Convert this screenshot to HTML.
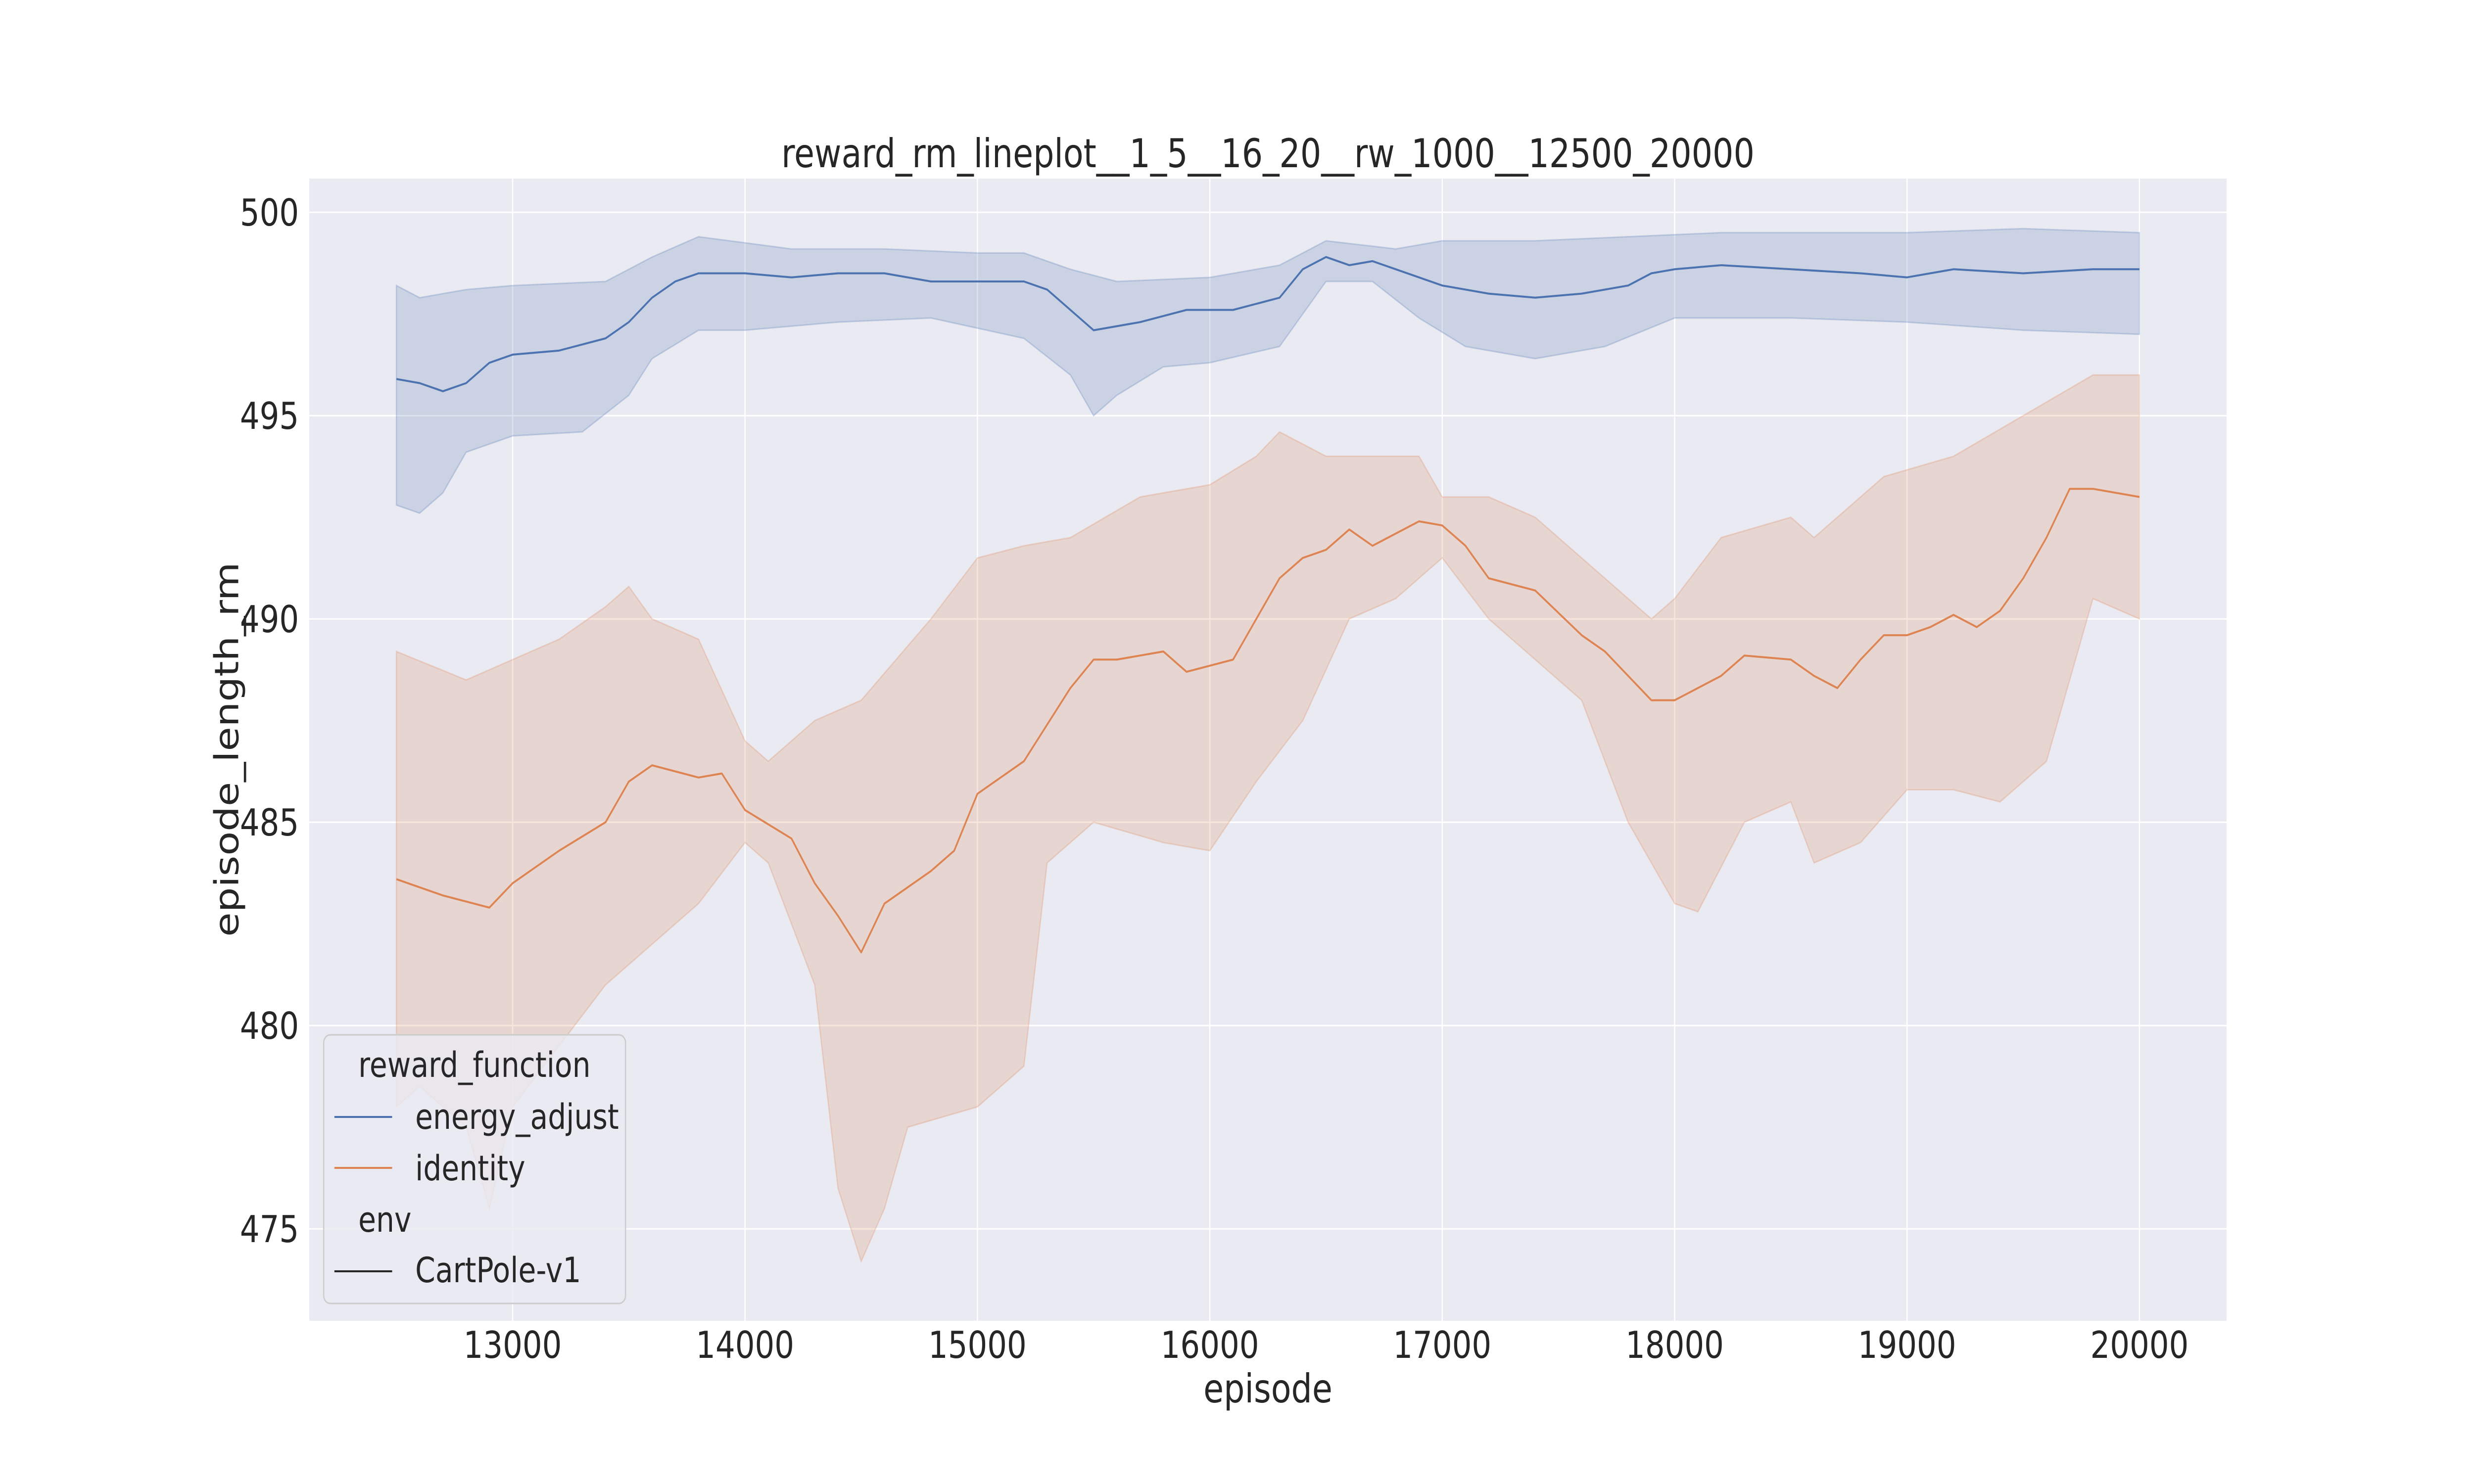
<!DOCTYPE html>
<html><head><meta charset="utf-8"><style>
html,body{margin:0;padding:0;background:#fff;width:100%;height:100%;overflow:hidden;}
svg{display:block;width:100vw;height:100vh;font-family:"DejaVu Sans","Liberation Sans",sans-serif;}
</style></head><body>
<svg id="chart" viewBox="0 0 6000 3000" preserveAspectRatio="none">
<rect x="0" y="0" width="6000" height="3000" fill="#ffffff"/>
<rect x="750" y="361" width="4650" height="2309" fill="#eaeaf2"/>
<g id="grid"></g>
<g id="series"></g>
<g id="ticks"></g>
<text x="3075" y="338" font-size="80" fill="#262626" text-anchor="middle">reward_rm_lineplot__1_5__16_20__rw_1000__12500_20000</text>
<text x="3075" y="2835" font-size="80" fill="#262626" text-anchor="middle">episode</text>
<text transform="translate(578,1515) rotate(-90)" font-size="80" fill="#262626" text-anchor="middle">episode_length_rm</text>
<g>
<rect x="785" y="2092" width="732" height="543" rx="16" fill="#eaeaf2" fill-opacity="0.8" stroke="#cccccc" stroke-width="3"/>
<text x="869" y="2177" font-size="70" fill="#262626">reward_function</text>
<line x1="811" y1="2258" x2="951" y2="2258" stroke="#4c72b0" stroke-width="4"/>
<text x="1007" y="2282" font-size="70" fill="#262626">energy_adjust</text>
<line x1="811" y1="2361" x2="951" y2="2361" stroke="#dd8452" stroke-width="4"/>
<text x="1007" y="2386" font-size="70" fill="#262626">identity</text>
<text x="869" y="2490" font-size="70" fill="#262626">env</text>
<line x1="811" y1="2570" x2="951" y2="2570" stroke="#262626" stroke-width="4"/>
<text x="1007" y="2592" font-size="70" fill="#262626">CartPole-v1</text>
</g>
</svg>
<script>
const xTicks=[13000,14000,15000,16000,17000,18000,19000,20000];
const yTicks=[475,480,485,490,495,500];
const blueMeanX=[12500,12600,12700,12800,12900,13000,13200,13400,13500,13600,13700,13800,14000,14200,14400,14600,14800,15000,15200,15300,15400,15500,15700,15900,16100,16300,16400,16500,16600,16700,16800,17000,17200,17400,17600,17800,17900,18000,18200,18500,18800,19000,19200,19500,19800,20000];
const blueMean=[495.9,495.8,495.6,495.8,496.3,496.5,496.6,496.9,497.3,497.9,498.3,498.5,498.5,498.4,498.5,498.5,498.3,498.3,498.3,498.1,497.6,497.1,497.3,497.6,497.6,497.9,498.6,498.9,498.7,498.8,498.6,498.2,498.0,497.9,498.0,498.2,498.5,498.6,498.7,498.6,498.5,498.4,498.6,498.5,498.6,498.6];
const blueUpX=[12500,12600,12800,13000,13400,13600,13800,14200,14600,15000,15200,15400,15600,16000,16300,16500,16800,17000,17400,17800,18200,19000,19500,20000];
const blueUp=[498.2,497.9,498.1,498.2,498.3,498.9,499.4,499.1,499.1,499.0,499.0,498.6,498.3,498.4,498.7,499.3,499.1,499.3,499.3,499.4,499.5,499.5,499.6,499.5];
const blueLoX=[12500,12600,12700,12800,13000,13300,13500,13600,13800,14000,14400,14800,15200,15400,15500,15600,15800,16000,16300,16500,16700,16900,17100,17400,17700,18000,18500,19000,19500,20000];
const blueLo=[492.8,492.6,493.1,494.1,494.5,494.6,495.5,496.4,497.1,497.1,497.3,497.4,496.9,496.0,495.0,495.5,496.2,496.3,496.7,498.3,498.3,497.4,496.7,496.4,496.7,497.4,497.4,497.3,497.1,497.0];
const orMeanX=[12500,12700,12900,13000,13200,13400,13500,13600,13800,13900,14000,14200,14300,14400,14500,14600,14800,14900,15000,15200,15300,15400,15500,15600,15800,15900,16100,16200,16300,16400,16500,16600,16700,16900,17000,17100,17200,17400,17600,17700,17900,18000,18200,18300,18500,18600,18700,18800,18900,19000,19100,19200,19300,19400,19500,19600,19700,19800,20000];
const orMean=[483.6,483.2,482.9,483.5,484.3,485.0,486.0,486.4,486.1,486.2,485.3,484.6,483.5,482.7,481.8,483.0,483.8,484.3,485.7,486.5,487.4,488.3,489.0,489.0,489.2,488.7,489.0,490.0,491.0,491.5,491.7,492.2,491.8,492.4,492.3,491.8,491.0,490.7,489.6,489.2,488.0,488.0,488.6,489.1,489.0,488.6,488.3,489.0,489.6,489.6,489.8,490.1,489.8,490.2,491.0,492.0,493.2,493.2,493.0];
const orUpX=[12500,12800,13000,13200,13400,13500,13600,13800,14000,14100,14300,14500,14800,15000,15200,15400,15700,16000,16200,16300,16500,16900,17000,17200,17400,17600,17900,18000,18200,18500,18600,18900,19200,19500,19800,20000];
const orUp=[489.2,488.5,489.0,489.5,490.3,490.8,490.0,489.5,487.0,486.5,487.5,488.0,490.0,491.5,491.8,492.0,493.0,493.3,494.0,494.6,494.0,494.0,493.0,493.0,492.5,491.5,490.0,490.5,492.0,492.5,492.0,493.5,494.0,495.0,496.0,496.0];
const orLoX=[12500,12600,12800,12900,13000,13200,13400,13600,13800,14000,14100,14300,14400,14500,14600,14700,15000,15200,15300,15500,15800,16000,16200,16400,16600,16800,17000,17200,17400,17600,17800,18000,18100,18300,18500,18600,18800,19000,19200,19400,19600,19700,19800,20000];
const orLo=[478.0,478.5,477.5,475.5,478.0,479.5,481.0,482.0,483.0,484.5,484.0,481.0,476.0,474.2,475.5,477.5,478.0,479.0,484.0,485.0,484.5,484.3,486.0,487.5,490.0,490.5,491.5,490.0,489.0,488.0,485.0,483.0,482.8,485.0,485.5,484.0,484.5,485.8,485.8,485.5,486.5,488.5,490.5,490.0];

const L=750,R=5400,T=361,B=2670,XMIN=12125,XMAX=20375,YMIN=472.74,YMAX=500.83;
function sx(v){return L+(v-XMIN)/(XMAX-XMIN)*(R-L);}
function sy(v){return B-(v-YMIN)/(YMAX-YMIN)*(B-T);}
const NS="http://www.w3.org/2000/svg";
function mk(tag,attrs,parent){const e=document.createElementNS(NS,tag);for(const k in attrs)e.setAttribute(k,attrs[k]);parent.appendChild(e);return e;}
const grid=document.getElementById('grid'),ticks=document.getElementById('ticks'),series=document.getElementById('series');
xTicks.forEach(t=>{
  const g=mk('line',{x1:sx(t),x2:sx(t),y1:T,y2:B,stroke:'#ffffff','stroke-width':3},grid);
  
  
  const tx=mk('text',{x:sx(t),y:2745,'font-size':75,fill:'#262626','text-anchor':'middle'},ticks);
  tx.textContent=t;
  
  
});
yTicks.forEach(t=>{
  const g=mk('line',{x1:L,x2:R,y1:sy(t),y2:sy(t),stroke:'#ffffff','stroke-width':3},grid);
  
  
  const tx=mk('text',{x:725,y:sy(t)+27,'font-size':75,fill:'#262626','text-anchor':'end'},ticks);
  tx.textContent=t;
  
  
});
function pts(xs,ys){return xs.map((x,i)=>sx(x).toFixed(1)+','+sy(ys[i]).toFixed(1));}
function band(upX,up,loX,lo,color,name){
  const p=pts(upX,up).concat(pts(loX,lo).reverse());
  const e=mk('polygon',{points:p.join(' '),fill:color,'fill-opacity':0.2,stroke:color,'stroke-opacity':0.25,'stroke-width':3},series);
  
  
}
function line(xs,ys,color,name){
  const e=mk('polyline',{points:pts(xs,ys).join(' '),fill:'none',stroke:color,'stroke-width':4,'stroke-linejoin':'round'},series);
  
  
}
band(blueUpX,blueUp,blueLoX,blueLo,'#4c72b0','energy-adjust-ci-band');
band(orUpX,orUp,orLoX,orLo,'#dd8452','identity-ci-band');
line(blueMeanX,blueMean,'#4c72b0','energy-adjust-line');
line(orMeanX,orMean,'#dd8452','identity-line');
</script>
</body></html>
